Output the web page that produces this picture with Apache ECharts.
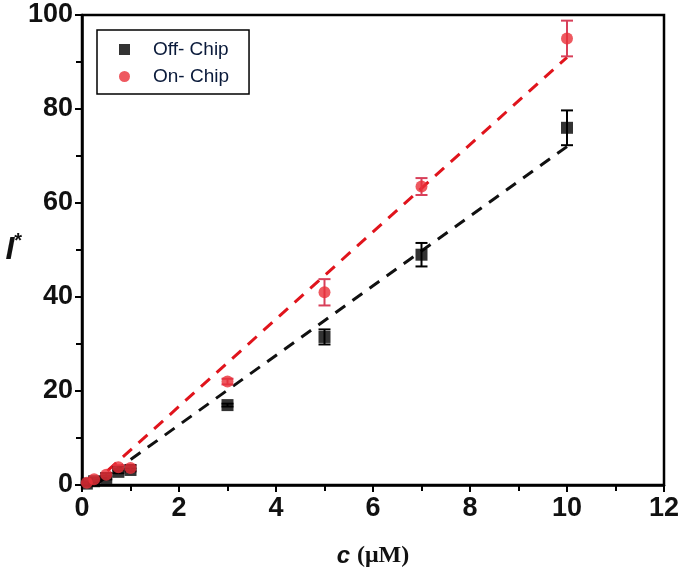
<!DOCTYPE html>
<html>
<head>
<meta charset="utf-8">
<script src="https://cdn.jsdelivr.net/npm/echarts@6/dist/echarts.min.js"></script>
<style>
  html, body { margin: 0; padding: 0; background: #fff; }
  #chart { width: 685px; height: 573px; }
</style>
</head>
<body>
<div id="chart"></div>
<script>
// concentration (uM)
const offC = [0.1, 0.25, 0.5, 0.75, 1.0, 3, 5, 7, 10];
const offI = [0.3, 0.8, 1.5, 2.8, 3.2, 17, 31.5, 49, 76];
const offErr = [0.2, 0.2, 0.3, 0.3, 0.3, 0.3, 1.6, 2.5, 3.7];

const onC = [0.1, 0.25, 0.5, 0.75, 1.0, 3, 5, 7, 10];
const onI = [0.5, 1.2, 2.2, 3.8, 3.6, 22, 41, 63.5, 95];
const onErr = [0.2, 0.3, 0.3, 0.4, 0.6, 0.6, 2.8, 1.8, 3.8];

// linear fits, end points
const offFit = [[0.3, 0.2], [10, 72]];
const onFit = [[0.2, 0], [10, 91]];

const RED = '#ea3038';
const myChart = echarts.init(document.getElementById('chart'));

function pts(xs, ys) { return xs.map((x, i) => [x, ys[i]]); }
function errData(xs, ys, es) { return xs.map((x, i) => [x, ys[i], es[i]]); }

function errSeries(data, color) {
  return {
    type: 'custom',
    data: data,
    z: 3,
    silent: true,
    renderItem: function (params, api) {
      const x = api.value(0), y = api.value(1), e = api.value(2);
      const top = api.coord([x, y + e]);
      const bot = api.coord([x, y - e]);
      const w = 6;
      const style = {stroke: color, lineWidth: 2};
      return {
        type: 'group',
        children: [
          {type: 'line', shape: {x1: top[0], y1: top[1], x2: bot[0], y2: bot[1]}, style: style},
          {type: 'line', shape: {x1: top[0] - w, y1: top[1], x2: top[0] + w, y2: top[1]}, style: style},
          {type: 'line', shape: {x1: bot[0] - w, y1: bot[1], x2: bot[0] + w, y2: bot[1]}, style: style}
        ]
      };
    }
  };
}

const tickFont = {fontFamily: 'Liberation Sans', fontWeight: 'bold', fontSize: 27, color: '#111'};

myChart.setOption({
  animation: false,
  grid: {left: 82, right: 21, top: 15, bottom: 86, show: true, borderColor: '#000', borderWidth: 2.5},
  xAxis: {
    type: 'value', min: 0, max: 12, interval: 2,
    axisLine: {lineStyle: {color: '#000', width: 2.5}},
    axisTick: {length: 7, lineStyle: {width: 2, color: '#000'}},
    minorTick: {show: true, splitNumber: 2, length: 6, lineStyle: {width: 2, color: '#000'}},
    splitLine: {show: false},
    axisLabel: Object.assign({margin: 10}, tickFont),
    name: '{c|c}  {u|(μM)}',
    nameLocation: 'middle',
    nameGap: 59,
    nameTextStyle: {
      rich: {
        c: {fontFamily: 'Liberation Sans', fontStyle: 'italic', fontWeight: 'bold', fontSize: 24, color: '#111'},
        u: {fontFamily: 'Liberation Serif', fontWeight: 'bold', fontSize: 24, color: '#111'}
      }
    }
  },
  yAxis: {
    type: 'value', min: 0, max: 100, interval: 20,
    axisLine: {lineStyle: {color: '#000', width: 2.5}},
    axisTick: {length: 7, lineStyle: {width: 2, color: '#000'}},
    minorTick: {show: true, splitNumber: 2, length: 6, lineStyle: {width: 2, color: '#000'}},
    splitLine: {show: false},
    axisLabel: Object.assign({margin: 9}, tickFont),
    name: '{i|I}{s|*}',
    nameLocation: 'middle',
    nameGap: 57,
    nameRotate: 0,
    nameTextStyle: {
      rich: {
        i: {fontFamily: 'Liberation Sans', fontStyle: 'italic', fontWeight: 'bold', fontSize: 32, color: '#111'},
        s: {fontFamily: 'Liberation Sans', fontWeight: 'bold', fontSize: 20, color: '#111', verticalAlign: 'top', padding: [0, 0, 18, 0]}
      }
    }
  },
  legend: {
    orient: 'vertical',
    left: 97, top: 30,
    data: ['Off- Chip', 'On- Chip'],
    borderColor: '#000', borderWidth: 1.5,
    padding: [10, 20, 8, 22],
    itemGap: 8,
    itemWidth: 11, itemHeight: 11,
    textStyle: {fontFamily: 'Liberation Sans', fontSize: 19, color: '#0a1a3a', padding: [0, 0, 0, 18]}
  },
  series: [
    {
      type: 'line', data: offFit, showSymbol: false, silent: true, z: 2,
      lineStyle: {color: '#111', width: 3, type: [12, 9]}
    },
    {
      type: 'line', data: onFit, showSymbol: false, silent: true, z: 2,
      lineStyle: {color: '#e0141c', width: 3, type: [12, 9]}
    },
    errSeries(errData(offC, offI, offErr), '#000'),
    errSeries(errData(onC, onI, onErr), '#d8405a'),
    {
      name: 'Off- Chip', type: 'scatter', data: pts(offC, offI), z: 4,
      symbol: 'rect', symbolSize: 12, itemStyle: {color: '#000'}
    },
    {
      name: 'On- Chip', type: 'scatter', data: pts(onC, onI), z: 5,
      symbol: 'circle', symbolSize: 12, itemStyle: {color: RED}
    }
  ]
});
</script>
</body>
</html>
